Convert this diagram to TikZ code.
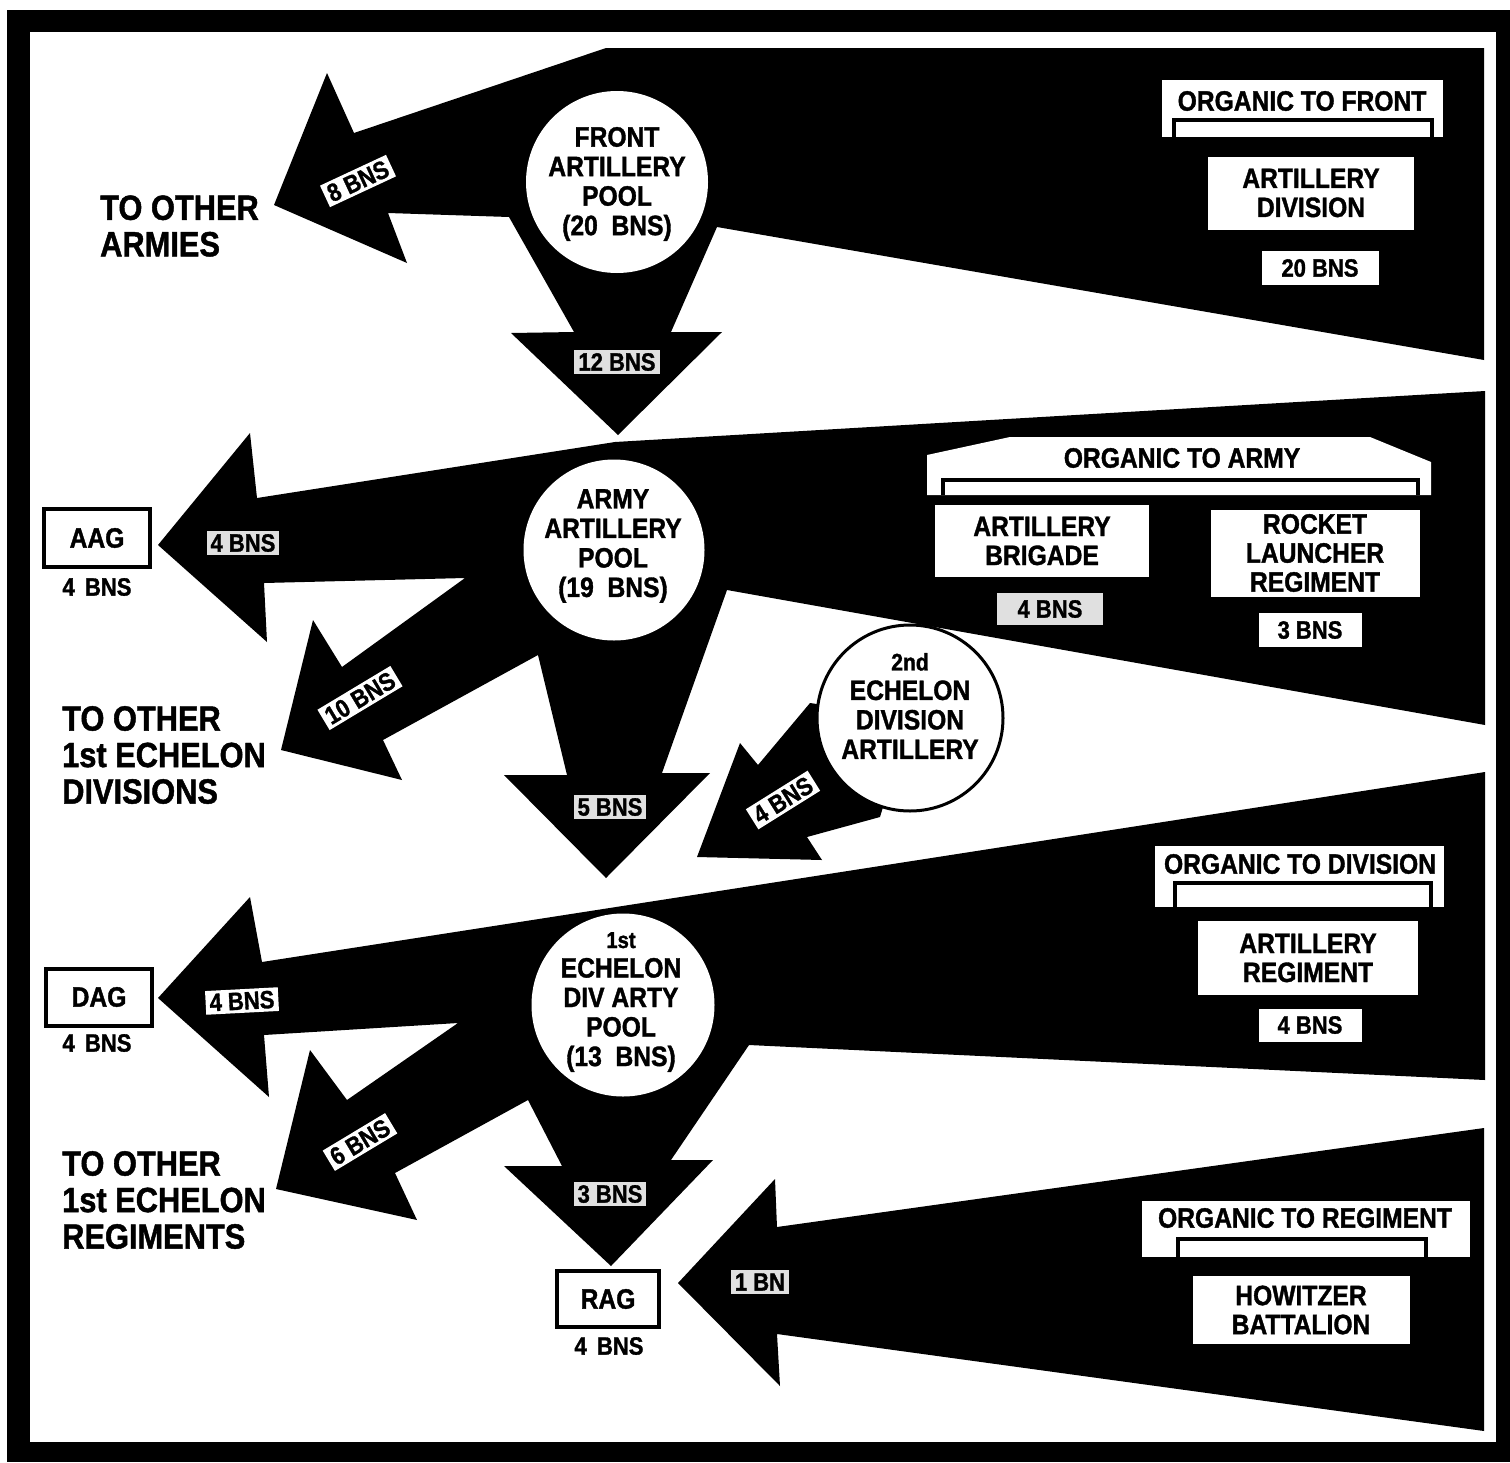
\documentclass[tikz,border=0pt]{standalone}
\usepackage{fontspec}
\setmainfont{Liberation Sans}[FakeStretch=0.88, BoldFeatures={FakeBold=1.3}]

\newcommand{\desttype}{\fontsize{35}{36.5}\selectfont\bfseries}
\newcommand{\pooltype}{\fontsize{28}{29.5}\selectfont\bfseries}
\newcommand{\boxtype}{\fontsize{28}{29}\selectfont\bfseries}
\newcommand{\tagtype}{\fontsize{25}{25}\selectfont\bfseries}
\colorlet{plain}{white}
\colorlet{grey}{black!12}

\begin{document}
\begin{tikzpicture}[x=1pt, y=-1pt]
            \tikzstyle{wedge} = [fill=black]
            \tikzstyle{pool} = [circle, fill=white, inner sep=0pt]
            \tikzstyle{pooltext} = [align=center, inner sep=0pt, font=\pooltype]
            \tikzstyle{unit} = [fill=white, inner sep=0pt, align=center, font=\boxtype]
            \tikzstyle{tag} = [fill=white, inner xsep=4pt, inner ysep=3pt, font=\tagtype]
            \tikzstyle{group} = [draw, line width=4pt, fill=white, inner sep=0pt, font=\boxtype]
            \tikzstyle{bracket} = [line width=4pt]
            \tikzstyle{dest} = [align=left, anchor=west, inner sep=0pt, font=\desttype]
            \useasboundingbox (0, 0) rectangle (1510, 1462);
            % frame
            \fill (7, 10) rectangle (1510, 1462);
            \fill[white] (30, 32) rectangle (1496, 1442);

            % front wedge
            \fill[wedge] (606, 48) -- (1484, 48) -- (1484, 360) -- (717, 227) -- (671, 332) -- (722, 332)
                -- (618, 435) -- (511, 333) -- (574, 332) -- (509, 217) -- (388, 213) -- (407, 263)
                -- (274, 205) -- (327, 73) -- (354, 133) -- cycle;
            % army wedge
            \fill[wedge] (1485, 391) -- (615, 442) -- (257, 498) -- (250, 433) -- (158, 545) -- (267, 642)
                -- (264, 583) -- (465, 578) -- (342, 667) -- (313, 620) -- (281, 750) -- (402, 780)
                -- (383, 740) -- (538, 655) -- (567, 775) -- (504, 775) -- (606, 878) -- (710, 773)
                -- (662, 773) -- (727, 590) -- (1485, 725) -- cycle;
            % division wedge
            \fill[wedge] (1485, 772) -- (262, 962) -- (250, 897) -- (158, 998) -- (269, 1097) -- (264, 1035)
                -- (458, 1023) -- (347, 1100) -- (310, 1050) -- (276, 1189) -- (417, 1220) -- (395, 1173)
                -- (528, 1100) -- (562, 1166) -- (504, 1166) -- (611, 1266) -- (713, 1160) -- (671, 1160)
                -- (749, 1045) -- (1485, 1080) -- cycle;
            % regiment wedge
            \fill[wedge] (1484, 1128) -- (777, 1227) -- (775, 1179) -- (678, 1283) -- (780, 1386)
                -- (777, 1334) -- (1484, 1431) -- cycle;
            % 2nd echelon arrow
            \fill[wedge] (810, 703) -- (758, 765) -- (740, 743) -- (697, 857) -- (822, 860) -- (807, 837)
                -- (880, 817) -- (910, 718) -- cycle;

            % pools
            \node[pool, minimum size=182] (frontpool) at (617, 182) {};
            \node[pool, minimum size=181] (armypool) at (614, 550) {};
            \node[pool, minimum size=183] (divpool) at (623, 1005) {};
            \node[pool, draw, line width=3pt, minimum size=186] (echpool) at (910, 718) {};
            \node[pooltext] (frontname) at (617, 184) {FRONT\\ARTILLERY\\POOL\\(20~~BNS)};
            \node[pooltext] (armyname) at (613, 546) {ARMY\\ARTILLERY\\POOL\\(19~~BNS)};
            \node[pooltext] (divname) at (621, 1002) {{\fontsize{23}{23}\selectfont 1st}\\ECHELON\\DIV ARTY\\POOL\\(13~~BNS)};
            \node[pooltext] (echname) at (910, 706) {{\fontsize{24}{24}\selectfont 2nd}\\ECHELON\\DIVISION\\ARTILLERY};

            % organic to front
            \fill[white] (1162, 80) rectangle (1443, 137);
            \draw[bracket] (1174, 137) -- (1174, 120) -- (1432, 120) -- (1432, 137);
            \node[font=\boxtype] (orgfront) at (1302, 101) {ORGANIC TO FRONT};
            \node[unit, minimum width=206, minimum height=73] (artdiv) at (1311, 193) {ARTILLERY\\DIVISION};
            \node[tag, minimum width=117, minimum height=34] (artdivbns) at (1320, 268) {20 BNS};

            % organic to army
            \fill[white] (927, 495) -- (927, 455) -- (1010, 437) -- (1370, 437) -- (1431, 462) -- (1431, 495) -- cycle;
            \draw[bracket] (943, 495) -- (943, 480) -- (1418, 480) -- (1418, 495);
            \node[font=\boxtype] (orgarmy) at (1182, 458) {ORGANIC TO ARMY};
            \node[unit, minimum width=214, minimum height=72] (artbde) at (1042, 541) {ARTILLERY\\BRIGADE};
            \node[tag, fill=grey, minimum width=106, minimum height=32] (artbdebns) at (1050, 609) {4 BNS};
            \node[unit, minimum width=209, minimum height=87] (rocket) at (1315, 553) {ROCKET\\LAUNCHER\\REGIMENT};
            \node[tag, minimum width=103, minimum height=34] (rocketbns) at (1310, 630) {3 BNS};

            % organic to division
            \fill[white] (1155, 846) rectangle (1444, 907);
            \draw[bracket] (1175, 907) -- (1175, 883) -- (1431, 883) -- (1431, 907);
            \node[font=\boxtype] (orgdiv) at (1300, 864) {ORGANIC TO DIVISION};
            \node[unit, minimum width=220, minimum height=74] (artrgt) at (1308, 958) {ARTILLERY\\REGIMENT};
            \node[tag, minimum width=103, minimum height=33] (artrgtbns) at (1310, 1025) {4 BNS};

            % organic to regiment
            \fill[white] (1142, 1201) rectangle (1470, 1257);
            \draw[bracket] (1178, 1257) -- (1178, 1239) -- (1426, 1239) -- (1426, 1257);
            \node[font=\boxtype] (orgrgt) at (1305, 1218) {ORGANIC TO REGIMENT};
            \node[unit, minimum width=217, minimum height=68] (howitzer) at (1301, 1310) {HOWITZER\\BATTALION};

            % battalion counts on the arrows
            \foreach \n/\x/\y/\a/\c/\t in {toarmies/358/181/25/plain/8 BNS, toarmy/617/362/0/grey/12 BNS,
                    toaag/243/543/0/grey/4 BNS, todivs/360/698/31/plain/10 BNS, todiv/610/807/0/grey/5 BNS,
                    fromech/783/800/32/plain/4 BNS, todag/242/1001/3/plain/4 BNS, torgts/360/1142/31/plain/6 BNS,
                    torgt/610/1194/0/grey/3 BNS, torag/760/1282/0/grey/1 BN} {
                \node[tag, fill=\c, rotate=\a] (\n) at (\x, \y) {\t};
            }

            % artillery groups
            \node[group, minimum width=106, minimum height=58] (aag) at (97, 538) {AAG};
            \node[font=\tagtype] (aagbns) at (97, 587) {4\,~BNS};
            \node[group, minimum width=106, minimum height=57] (dag) at (99, 997) {DAG};
            \node[font=\tagtype] (dagbns) at (97, 1043) {4\,~BNS};
            \node[group, minimum width=102, minimum height=56] (rag) at (608, 1299) {RAG};
            \node[font=\tagtype] (ragbns) at (609, 1346) {4\,~BNS};

            % destinations
            \node[dest] (armies) at (100, 226) {TO OTHER\\ARMIES};
            \node[dest] (otherdivs) at (62, 755) {TO OTHER\\1st ECHELON\\DIVISIONS};
            \node[dest] (otherrgts) at (62, 1200) {TO OTHER\\1st ECHELON\\REGIMENTS};
        \end{tikzpicture}
\end{document}
